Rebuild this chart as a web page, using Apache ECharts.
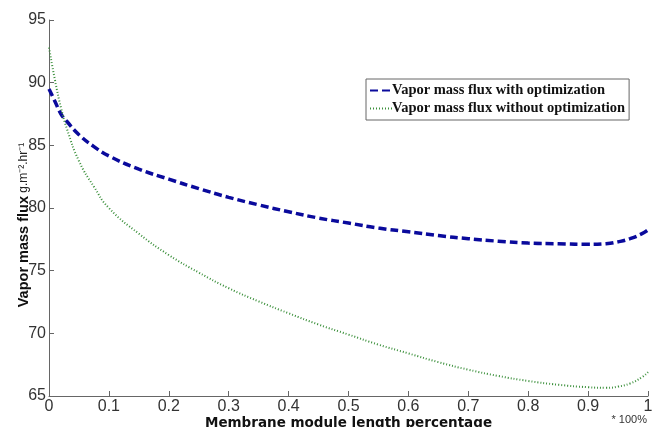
<!DOCTYPE html>
<html>
<head>
<meta charset="utf-8">
<script src="https://cdn.jsdelivr.net/npm/echarts@6/dist/echarts.min.js"></script>
<style>html,body{margin:0;padding:0;background:#fff}#c{width:653px;height:427px}</style>
</head>
<body>
<div id="c"></div>
<script>
var xs = [0, 0.01, 0.02, 0.03, 0.05, 0.075, 0.1, 0.15, 0.2, 0.25, 0.3, 0.35, 0.4, 0.45, 0.5, 0.55, 0.6, 0.65, 0.7, 0.75, 0.8, 0.85, 0.9, 0.93, 0.95, 0.97, 0.99, 1.0];
var withOpt = [89.5, 88.5, 87.5, 86.9, 85.85, 84.9, 84.15, 83.1, 82.3, 81.55, 80.85, 80.25, 79.7, 79.2, 78.8, 78.4, 78.1, 77.8, 77.55, 77.35, 77.2, 77.15, 77.1, 77.15, 77.3, 77.55, 77.95, 78.25];
var withoutOpt = [92.8, 90.2, 88.0, 86.3, 83.75, 81.7, 80.0, 77.95, 76.25, 74.85, 73.6, 72.55, 71.6, 70.7, 69.9, 69.1, 68.4, 67.7, 67.1, 66.6, 66.2, 65.9, 65.7, 65.65, 65.75, 66.0, 66.5, 66.9];
var seriesNames = ['Vapor mass flux with optimization', 'Vapor mass flux without optimization'];

function pairs(ys) { return xs.map(function (x, i) { return [x, ys[i]]; }); }

var chart = echarts.init(document.getElementById('c'), null, {renderer: 'canvas'});
chart.setOption({
  animation: false,
  backgroundColor: '#fff',
  grid: {left: 49, right: 5, top: 20, bottom: 31, containLabel: false, outerBoundsMode: 'none'},
  legend: {
    orient: 'vertical',
    left: 366, top: 79,
    padding: [4, 4, 4, 3],
    itemGap: 3,
    itemWidth: 22, itemHeight: 12,
    borderColor: '#666', borderWidth: 1,
    backgroundColor: '#fff',
    itemStyle: {opacity: 0},
    textStyle: {fontFamily: 'Liberation Serif', fontWeight: 'bold', fontSize: 14.5, color: '#111', padding: [0,0,0,-5]},
    data: seriesNames
  },
  xAxis: {
    type: 'value', min: 0, max: 1, interval: 0.1,
    name: 'Membrane module length percentage',
    nameLocation: 'middle', nameGap: 20, nameMoveOverlap: false,
    nameTextStyle: {fontFamily: 'DejaVu Sans', fontWeight: 'bold', fontSize: 13.5, color: '#111'},
    axisLine: {lineStyle: {color: '#666', width: 1}},
    axisTick: {inside: true, length: 5, lineStyle: {color: '#666'}},
    axisLabel: {fontFamily: 'Liberation Sans', fontSize: 16, color: '#333', margin: 3,
      formatter: function (v) { return String(Math.round(v * 10) / 10); }},
    splitLine: {show: false}
  },
  yAxis: {
    type: 'value', min: 65, max: 95, interval: 5,
    name: '{b|Vapor mass flux}{u| g.m⁻².hr⁻¹}',
    nameLocation: 'middle', nameGap: 18, nameRotate: 90, nameMoveOverlap: false,
    nameTextStyle: {
      padding: [0, 34, 0, 0],
      rich: {
        b: {fontFamily: 'Liberation Sans', fontWeight: 'bold', fontSize: 14.5, color: '#111'},
        u: {fontFamily: 'Liberation Sans', fontSize: 12, color: '#222'}
      }
    },
    axisLine: {show: true, lineStyle: {color: '#666', width: 1}},
    axisTick: {show: true, inside: true, length: 5, lineStyle: {color: '#666'}},
    axisLabel: {fontFamily: 'Liberation Sans', fontSize: 16, color: '#333', margin: 3},
    splitLine: {show: false}
  },
  series: [
    {
      name: seriesNames[0], type: 'line', data: pairs(withOpt), smooth: true,
      symbol: 'none',
      lineStyle: {color: '#0a0a9c', width: 3.5, type: [8, 4]},
      itemStyle: {color: '#0a0a9c'}
    },
    {
      name: seriesNames[1], type: 'line', data: pairs(withoutOpt), smooth: true,
      symbol: 'none',
      lineStyle: {color: '#3a8f3a', width: 2, type: [1, 2]},
      itemStyle: {color: '#3a8f3a'}
    }
  ],
  graphic: [
    {type: 'text', right: 6, top: 414, style: {text: '* 100%', font: '11px "Liberation Sans"', fill: '#333'}}
  ]
});
</script>
</body>
</html>
